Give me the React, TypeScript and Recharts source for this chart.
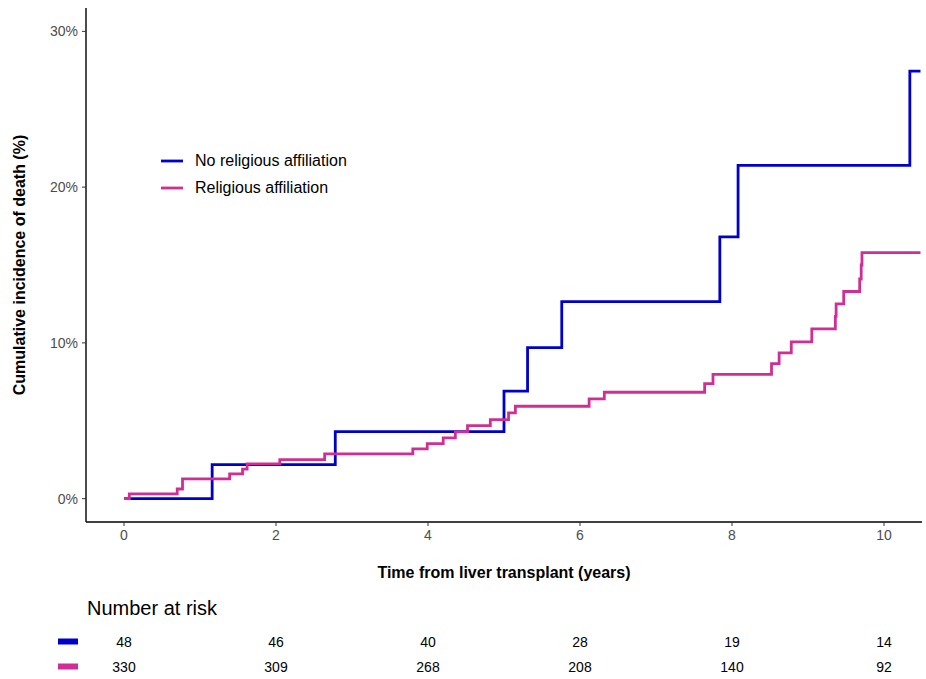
import React from 'react';
import {
  LineChart, Line, XAxis, YAxis, Label, ScatterChart, Scatter,
} from 'recharts';

// ---- Data ----
const noRelTimes = [0, 1.16, 2.78, 5.0, 5.31, 5.76, 7.84, 8.08, 10.34, 10.48];
const noRelValues = [0, 2.18, 4.3, 6.9, 9.7, 12.65, 16.8, 21.4, 27.45, 27.45];

const relTimes = [
  0, 0.07, 0.7, 0.77, 1.39, 1.56, 1.62, 2.05, 2.64, 3.8, 3.99, 4.2, 4.36, 4.52,
  4.82, 5.06, 5.15, 6.12, 6.32, 7.64, 7.75, 8.52, 8.62, 8.78, 9.05, 9.36, 9.37,
  9.47, 9.68, 9.7, 9.71, 10.48,
];
const relValues = [
  0, 0.3, 0.62, 1.27, 1.59, 1.9, 2.23, 2.5, 2.87, 3.19, 3.53, 3.9, 4.28, 4.69,
  5.07, 5.5, 5.93, 6.4, 6.83, 7.38, 7.98, 8.67, 9.36, 10.06, 10.9, 11.7, 12.5,
  13.3, 14.1, 15.0, 15.8, 15.8,
];

const seriesNames = ['No religious affiliation', 'Religious affiliation'];
const seriesColors = ['#0000cd', '#d12e95'];

const xTicks = [0, 2, 4, 6, 8, 10];
const yTicks = [0, 10, 20, 30];

const riskTimes = [0, 2, 4, 6, 8, 10];
const riskNoRel = [48, 46, 40, 28, 19, 14];
const riskRel = [330, 309, 268, 208, 140, 92];

const FONT = '"Liberation Sans", Arial, Helvetica, sans-serif';

const noRelData = noRelTimes.map((t, i) => ({ t, v: noRelValues[i] }));
const relData = relTimes.map((t, i) => ({ t, v: relValues[i] }));
const riskData = [
  ...riskTimes.map((t, i) => ({ t, r: 0, n: riskNoRel[i] })),
  ...riskTimes.map((t, i) => ({ t, r: 1, n: riskRel[i] })),
];

const LegendBox = () => (
  <div style={{ position: 'absolute', left: 161, top: 147, fontFamily: FONT }}>
    {seriesNames.map((name, i) => (
      <div key={name} style={{ display: 'flex', alignItems: 'center', height: 27 }}>
        <svg width={22} height={6} style={{ marginRight: 12 }}>
          <line x1={0} y1={3} x2={22} y2={3} stroke={seriesColors[i]} strokeWidth={2.8} />
        </svg>
        <span style={{ fontSize: 16, color: '#000', whiteSpace: 'nowrap' }}>{name}</span>
      </div>
    ))}
  </div>
);

const RiskKeyTick = (props: any) => {
  const { y, payload } = props;
  const idx = payload.value;
  return <rect x={58} y={y - 3} width={20} height={6} fill={seriesColors[idx]} />;
};

const RiskLabel = (props: any) => {
  const { cx, cy, payload } = props;
  return (
    <text x={cx} y={cy} textAnchor="middle" dominantBaseline="central" fontSize={14} fill="#000" fontFamily={FONT}>
      {payload.n}
    </text>
  );
};

export default function App() {
  return (
    <div style={{ position: 'absolute', left: 0, top: 0, width: 926, height: 679, background: '#fff', fontFamily: FONT }}>
      <LineChart width={926} height={590} margin={{ top: 8, right: 4, bottom: 0, left: 0 }}>
        <XAxis
          type="number"
          dataKey="t"
          domain={[-0.5, 10.5]}
          ticks={xTicks}
          allowDataOverflow
          height={68}
          tickSize={4}
          tickMargin={4}
          tick={{ fill: '#4d4d4d', fontSize: 14 }}
          axisLine={{ stroke: '#000', strokeWidth: 1.4 }}
          tickLine={{ stroke: '#333' }}
        >
          <Label
            content={(p: any) => {
              const vb = p.viewBox || {};
              return (
                <text x={vb.x + vb.width / 2} y={578} textAnchor="middle" fontSize={16} fontWeight="bold" fill="#000">
                  Time from liver transplant (years)
                </text>
              );
            }}
          />
        </XAxis>
        <YAxis
          type="number"
          domain={[-1.5, 31.5]}
          ticks={yTicks}
          allowDataOverflow
          width={86}
          tickSize={4}
          tickMargin={4}
          tickFormatter={(v: number) => `${v}%`}
          tick={{ fill: '#4d4d4d', fontSize: 14 }}
          axisLine={{ stroke: '#000', strokeWidth: 1.4 }}
          tickLine={{ stroke: '#333' }}
        >
          <Label
            content={(p: any) => {
              const vb = p.viewBox || {};
              const cy = vb.y + vb.height / 2;
              return (
                <text x={25} y={cy} transform={`rotate(-90, 25, ${cy})`} textAnchor="middle" fontSize={16} fontWeight="bold" fill="#000">
                  Cumulative incidence of death (%)
                </text>
              );
            }}
          />
        </YAxis>
        <Line
          data={noRelData}
          dataKey="v"
          name={seriesNames[0]}
          type="stepAfter"
          stroke={seriesColors[0]}
          strokeWidth={2.8}
          dot={false}
          activeDot={false}
          isAnimationActive={false}
        />
        <Line
          data={relData}
          dataKey="v"
          name={seriesNames[1]}
          type="stepAfter"
          stroke={seriesColors[1]}
          strokeWidth={2.8}
          dot={false}
          activeDot={false}
          isAnimationActive={false}
        />
      </LineChart>
      <LegendBox />
      <svg width={926} height={30} style={{ position: 'absolute', left: 0, top: 593 }}>
        <text x={87} y={22} fontSize={20} fill="#000" fontFamily={FONT}>Number at risk</text>
      </svg>
      <div style={{ position: 'absolute', left: 0, top: 590 }}>
        <ScatterChart width={926} height={89} margin={{ top: 39, right: 4, bottom: 0, left: 0 }}>
          <XAxis type="number" dataKey="t" domain={[-0.5, 10.5]} hide />
          <YAxis
            type="number"
            dataKey="r"
            domain={[-0.5, 1.5]}
            ticks={[0, 1]}
            reversed
            width={86}
            axisLine={false}
            tickLine={false}
            tick={<RiskKeyTick />}
          />
          <Scatter data={riskData} shape={<RiskLabel />} isAnimationActive={false} />
        </ScatterChart>
      </div>
    </div>
  );
}
